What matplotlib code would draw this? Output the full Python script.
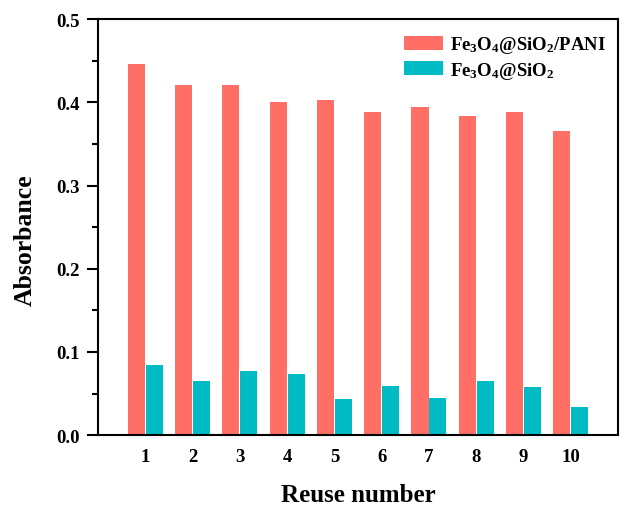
import matplotlib
matplotlib.use("Agg")
import matplotlib.pyplot as plt
from matplotlib.ticker import MultipleLocator
import numpy as np

# data
reuse = [1, 2, 3, 4, 5, 6, 7, 8, 9, 10]
pani = [0.446, 0.421, 0.421, 0.400, 0.403, 0.388, 0.395, 0.384, 0.388, 0.366]
sio2 = [0.084, 0.065, 0.077, 0.073, 0.044, 0.059, 0.045, 0.065, 0.058, 0.034]
labels = [r"$\mathrm{Fe_3O_4@SiO_2/PANI}$", r"$\mathrm{Fe_3O_4@SiO_2}$"]

plt.rcParams["font.family"] = ["Liberation Serif", "DejaVu Serif"]
plt.rcParams["font.weight"] = "bold"
plt.rcParams["mathtext.fontset"] = "custom"
plt.rcParams["mathtext.rm"] = "Liberation Serif:bold"
plt.rcParams["mathtext.it"] = "Liberation Serif:bold"
plt.rcParams["mathtext.bf"] = "Liberation Serif:bold"

fig = plt.figure(figsize=(6.2, 5.06), dpi=100)
ax = fig.add_axes([0.158, 0.138, 0.839, 0.822])

x = np.array(reuse)
w = 0.36
ax.bar(x - 0.19, pani, width=w, color="#FF6F66", label=labels[0])
ax.bar(x + 0.19, sio2, width=w, color="#00BBC4", label=labels[1])

ax.set_xlim(0, 11)
ax.set_ylim(0, 0.5)
ax.set_xticks(x)
ax.set_xticklabels([str(i) for i in reuse])
ax.yaxis.set_major_locator(MultipleLocator(0.1))
ax.yaxis.set_minor_locator(MultipleLocator(0.05))
ax.yaxis.set_major_formatter(matplotlib.ticker.FormatStrFormatter("%.1f"))

ax.tick_params(axis="y", which="major", direction="out", length=8, width=1.5, labelsize=13.5, pad=5)
ax.tick_params(axis="y", which="minor", direction="out", length=4, width=1.5)
ax.tick_params(axis="x", which="both", length=0, labelsize=13.5, pad=9)

for s in ax.spines.values():
    s.set_linewidth(1.5)

ax.set_xlabel("Reuse number", fontsize=18, fontweight="bold", labelpad=13)
ax.set_ylabel("Absorbance", fontsize=18.5, fontweight="bold")
ax.yaxis.set_label_coords(-0.117, 0.47)

ax.legend(loc="upper right", bbox_to_anchor=(1.01, 1.004), frameon=False, fontsize=13.5,
          handlelength=2.1, handleheight=0.75, handletextpad=0.4, labelspacing=0.22)

fig.savefig("out.png", dpi=100)
